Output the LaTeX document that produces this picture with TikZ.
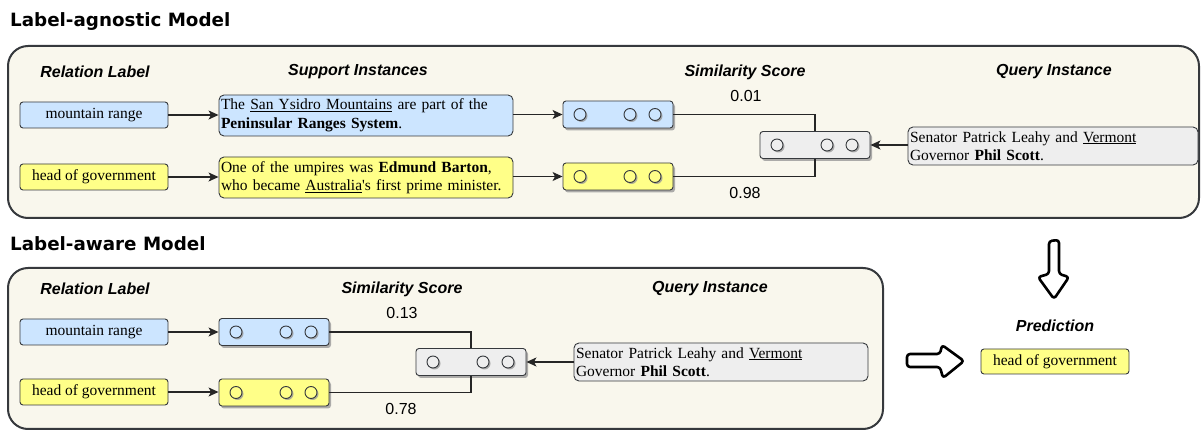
\documentclass[tikz,border=0pt]{standalone}
\usepackage{fontspec}
\setmainfont{Liberation Serif}
\newfontfamily\hdfont{Liberation Sans}
\newfontfamily\ttlfont{DejaVu Sans}
\usetikzlibrary{shadows,arrows.meta}
\definecolor{panelfill}{HTML}{F9F7ED}
\definecolor{panelborder}{HTML}{36393D}
\definecolor{lblue}{HTML}{CCE5FF}
\definecolor{lyel}{HTML}{FFFF88}
\definecolor{lgray}{HTML}{EEEEEE}
\definecolor{bord}{HTML}{36393D}
\newcommand{\txtfont}{\fontsize{15.5}{18.5}\selectfont}
\newcommand{\vecrow}[4]{%
  \node[vecbox, fill=#4] (#1) at (#2+55,#3) {};
  \node[dotc, fill=#4] (#1a) at (#2+17,#3) {};
  \node[dotc, fill=#4] (#1b) at (#2+67,#3) {};
  \node[dotc, fill=#4] (#1c) at (#2+92,#3) {};
}
\tikzset{
  panel/.style={draw=panelborder, line width=2pt, fill=panelfill, rounded corners=20pt},
  hdr/.style={font=\hdfont\fontsize{16}{19}\selectfont\bfseries\itshape, inner sep=0pt},
  ttl/.style={font=\ttlfont\fontsize{18.3}{21}\selectfont\bfseries, anchor=west, inner sep=0pt},
  lbl/.style={draw=bord, rounded corners=3pt, minimum width=148pt, minimum height=26pt, inner sep=0pt, font=\txtfont, line width=0.9pt},
  sup/.style={draw=bord, rounded corners=5pt, text width=290pt, minimum height=41pt, inner sep=2pt, align=left, font=\txtfont, line width=0.9pt},
  vecbox/.style={draw=bord, rounded corners=3pt, minimum width=110pt, minimum height=27pt, inner sep=0pt, line width=0.9pt,
    drop shadow={shadow xshift=2pt, shadow yshift=-2.5pt, fill=black!40, opacity=0.8}},
  dotc/.style={circle, draw=bord, minimum size=12pt, inner sep=0pt, line width=0.9pt,
    drop shadow={shadow xshift=1.5pt, shadow yshift=-1.5pt, fill=black!40, opacity=0.8}},
  num/.style={font=\hdfont\fontsize{16}{19}\selectfont, inner sep=0pt},
  arr/.style={draw=black!85, line width=1.2pt, -{Stealth[length=10pt,width=9pt,inset=2.5pt]}},
  conn/.style={draw=black!85, line width=1.2pt},
  hollow/.style={draw=black, line width=2.6pt, rounded corners=3pt, line join=round, fill=white},
}
\begin{document}
\begin{tikzpicture}[x=1pt,y=-1pt]
\useasboundingbox (0,0) rectangle (1203,430);
% ---------- Label-agnostic model ----------
\node[ttl] (t1) at (10,22) {Label-agnostic Model};
\draw[panel] (8,46) rectangle (1199,218);
\node[hdr] (h1) at (95,72) {Relation Label};
\node[hdr] (h2) at (358,72) {Support Instances};
\node[hdr] (h3) at (745,72) {Similarity Score};
\node[hdr] (h4) at (1054,72) {Query Instance};

\node[lbl, fill=lblue] (mr1) at (94,115) {mountain range};
\node[lbl, fill=lyel] (hg1) at (94,177) {head of government};

\node[sup, fill=lblue] (s1) at (366,115.5) {The \underline{San Ysidro Mountains} are part of the\\\textbf{Peninsular Ranges System}.};
\node[sup, fill=lyel] (s2) at (366,177.5) {One of the umpires was \textbf{Edmund Barton},\\who became \underline{Australia}\textquotesingle s first prime minister.};

\vecrow{v1}{563}{114.5}{lblue}
\vecrow{v2}{563}{176.5}{lyel}
\vecrow{c1}{760}{145}{lgray}

\node[sup, fill=lgray, text width=286pt, minimum height=38pt] (q1) at (1053,146) {Senator Patrick Leahy and \underline{Vermont}\\Governor \textbf{Phil Scott}.};

\draw[arr] (mr1.east) -- (s1.west |- mr1.east);
\draw[arr] (hg1.east) -- (s2.west |- hg1.east);
\draw[arr] (s1.east |- v1.west) -- (v1.west);
\draw[arr] (s2.east |- v2.west) -- (v2.west);
\draw[conn] (v1.east) -| (c1.north);
\draw[conn] (v2.east) -| (c1.south);
\draw[arr] (q1.west |- c1.east) -- (c1.east);
\node[num] (n1) at (746,96) {0.01};
\node[num] (n2) at (745,193) {0.98};

% ---------- Label-aware model ----------
\node[ttl] (t2) at (10,244) {Label-aware Model};
\draw[panel] (8,268) rectangle (883,429);
\node[hdr] (h5) at (95,289) {Relation Label};
\node[hdr] (h6) at (402,289) {Similarity Score};
\node[hdr] (h7) at (710,289) {Query Instance};

\node[lbl, fill=lblue] (mr2) at (94,332) {mountain range};
\node[lbl, fill=lyel] (hg2) at (94,392) {head of government};

\vecrow{w1}{219}{332}{lblue}
\vecrow{w2}{219}{392.5}{lyel}
\vecrow{c2}{416}{362}{lgray}

\node[sup, fill=lgray, text width=290pt, minimum height=38pt] (q2) at (721,362) {Senator Patrick Leahy and \underline{Vermont}\\Governor \textbf{Phil Scott}.};

\draw[arr] (mr2.east) -- (w1.west);
\draw[arr] (hg2.east) -- (w2.west |- hg2.east);
\draw[conn] (w1.east) -| (c2.north);
\draw[conn] (w2.east) -| (c2.south);
\draw[arr] (q2.west |- c2.east) -- (c2.east);
\node[num] (n3) at (402,313) {0.13};
\node[num] (n4) at (401,409) {0.78};

% ---------- Prediction ----------
\draw[hollow] (1049,241) -- (1059,240) -- (1059,274) -- (1069,277) -- (1054,299) -- (1038,277) -- (1049,274) -- cycle;
\node[hdr] (p) at (1055,326) {Prediction};
\node[lbl, fill=lyel, minimum height=25pt] (pr) at (1055,361.5) {head of government};
\draw[hollow] (907,354) -- (940,354) -- (942,345) -- (964,361) -- (943,378) -- (940,367) -- (907,367) -- cycle;
\end{tikzpicture}
\end{document}
